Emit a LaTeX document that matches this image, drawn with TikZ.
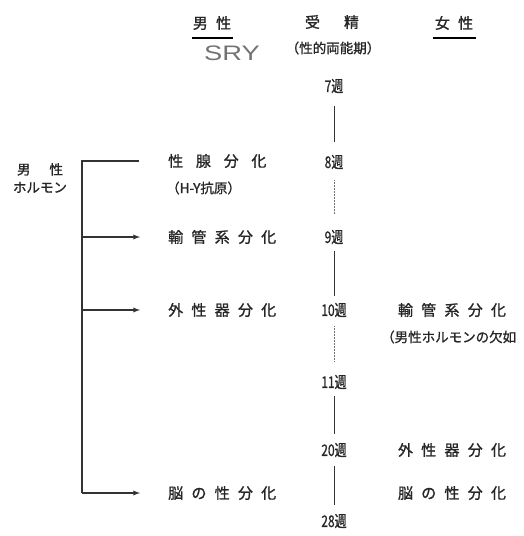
\documentclass[tikz,border=0pt]{standalone}
\usepackage{fontspec}
\setmainfont[AutoFakeBold=1.2]{Noto Sans CJK JP}
\newfontfamily\srysf{Liberation Sans}
\usepackage{tikz}
\usetikzlibrary{arrows,calc,positioning}

\newcommand{\jg}{\hspace{0.55em}}
\newcommand{\wg}{\hspace{0.85em}}
\newcommand{\wk}[1]{\scalebox{0.75}[1]{#1}}

\begin{document}
\begin{tikzpicture}[x=1pt,y=-1pt,
    lbl/.style={inner sep=1pt,text=black!85,font=\bfseries\fontsize{15}{15}\selectfont},
    sml/.style={inner sep=1pt,text=black!85,font=\bfseries\fontsize{13.5}{14}\selectfont},
    week/.style={inner sep=1pt,text=black!85,font=\bfseries\fontsize{16}{16}\selectfont},
    tl/.style={line width=1pt,black!80},
    tlf/.style={line width=0.5pt,black!55,densely dotted},
    hm/.style={line width=1.3pt,black!80}]
  \useasboundingbox (0,0) rectangle (523,536);
  \def\bx{82}
  \def\mx{167}
  \def\tx{334}
  \def\rx{452}
  % header
  \node[lbl] (male) at (212,23) {男\jg 性};
  \draw[line width=1.2pt] (192,38) -- (233,38);
  \node[inner sep=0pt,text=black!55,font=\srysf\fontsize{21}{21}\selectfont] (sry) at (232,53) {\scalebox{1.3}[1]{SRY}};
  \node[lbl] (fert) at (332,22) {受\hspace{1.6em}精};
  \node[sml] (bipot) at (333,48) {（性的両能期）};
  \node[lbl] (female) at (454,23) {女\jg 性};
  \draw[line width=1.2pt] (433,38) -- (476,38);
  % time line
  \node[week] (w7) at (\tx,86) {\wk{7週}};
  \node[week] (w8) at (\tx,162) {\wk{8週}};
  \node[week] (w9) at (\tx,237) {\wk{9週}};
  \node[week] (w10) at (\tx,310) {\wk{10週}};
  \node[week] (w11) at (\tx,382) {\wk{11週}};
  \node[week] (w20) at (\tx,450) {\wk{20週}};
  \node[week] (w28) at (\tx,521) {\wk{28週}};
  \draw[tl] ([yshift=-12pt]w7.south) -- ([yshift=12pt]w8.north);
  \draw[tlf] ([yshift=-10pt]w8.south) -- ([yshift=14pt]w9.north);
  \draw[tl] ([yshift=-6pt]w9.south) -- ([yshift=6pt]w10.north);
  \draw[tlf] ([yshift=-8pt]w10.south) -- ([yshift=12pt]w11.north);
  \draw[tl] ([yshift=-6pt]w11.south) -- ([yshift=8pt]w20.north);
  \draw[tl] ([yshift=-8pt]w20.south) -- ([yshift=8pt]w28.north);
  % male side
  \node[sml,align=center] (horm) at (40,178) {男\hspace{1.4em}性\\[4pt]ホルモン};
  \node[lbl,anchor=west] (gonad) at (\mx,161) {性\wg 腺\wg 分\wg 化};
  \node[sml,anchor=west] (hy) at (\mx-2,188) {（H-Y抗原）};
  \node[lbl,anchor=west] (ductL) at (\mx,237) {輸\jg 管\jg 系\jg 分\jg 化};
  \node[lbl,anchor=west] (extL) at (\mx,310) {外\jg 性\jg 器\jg 分\jg 化};
  \node[lbl,anchor=west] (brainL) at (\mx,493) {脳\jg の\jg 性\jg 分\jg 化};
  \coordinate (b2) at (\bx,237);
  \coordinate (b3) at (\bx,310);
  \coordinate (b4) at (\bx,493);
  \draw[hm] ($(gonad.west)+(-28,0)$) -| (b4);
  \draw[hm,->,>=latex] (b2) -- ($(ductL.west)+(-27,0)$);
  \draw[hm,->,>=latex] (b3) -- ($(extL.west)+(-27,0)$);
  \draw[hm,->,>=latex] (b4) -- ($(brainL.west)+(-27,0)$);
  % female side
  \node[lbl] (ductR) at (\rx,310) {輸\jg 管\jg 系\jg 分\jg 化};
  \node[sml,anchor=west] (lack) at (380,337) {（男性ホルモンの欠如};
  \node[lbl] (extR) at (\rx,450) {外\jg 性\jg 器\jg 分\jg 化};
  \node[lbl] (brainR) at (\rx,493) {脳\jg の\jg 性\jg 分\jg 化};
\end{tikzpicture}
\end{document}
